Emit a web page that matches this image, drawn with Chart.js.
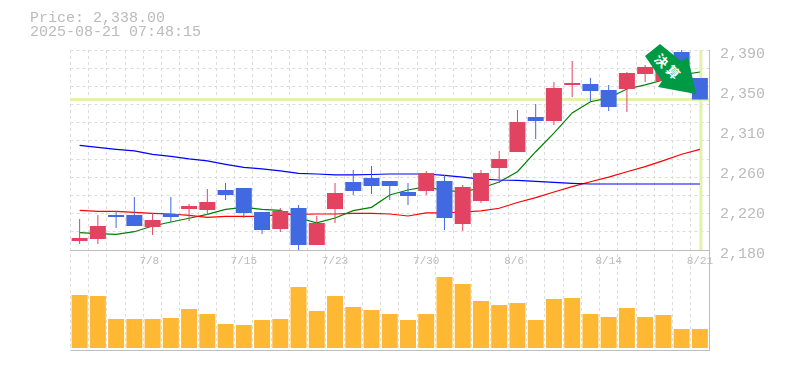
<!DOCTYPE html>
<html lang="en">
<head>
    <title>Price Chart</title>
    <script src="https://cdn.jsdelivr.net/npm/chart.js"></script>
    <style>
        html, body { margin: 0; padding: 0; background: #fff; overflow: hidden; }
        #wrap { position: relative; width: 785px; height: 370px; }
        #head { position: absolute; left: 30px; top: 12px; font: 15px/14px "Liberation Mono", monospace; color: #bbb; white-space: pre; }
        #badge { position: absolute; left: 640px; top: 40px; width: 60px; height: 60px; background: #009944;
                 clip-path: polygon(20px 4px, 41px 21px, 48px 17px, 56px 54px, 18px 47px, 22px 41px, 5px 16px); }
        #badge span { position: absolute; left: 13px; top: 19px; width: 28px; text-align: center; color: #fff; white-space: nowrap;
                      font: bold 13px/14px "Noto Sans CJK JP"; letter-spacing: 3px; transform: rotate(45deg); }
    </style>
</head>
<body>
    <div id="wrap">
        <canvas id="priceChart" width="785" height="370"></canvas>
        <div id="head">Price: 2,338.00
2025-08-21 07:48:15</div>
        <div id="badge"><span>決算</span></div>
    </div>

    <script>
        const dates = ['7/2','7/3','7/4','7/7','7/8','7/9','7/10','7/11','7/14','7/15','7/16','7/17','7/18','7/22','7/23','7/24','7/25','7/28','7/29','7/30','7/31','8/1','8/4','8/5','8/6','8/7','8/8','8/12','8/13','8/14','8/15','8/18','8/19','8/20','8/21'];

        const opens  = [2189.5,2191.5,2216.8,2216.8,2204.2,2217.8,2223.0,2222.0,2243.0,2245.1,2219.9,2202.1,2224.1,2185.3,2223.0,2251.4,2255.6,2252.5,2240.9,2242.0,2252.5,2207.3,2231.5,2266.1,2282.9,2319.7,2315.5,2353.3,2354.3,2348.0,2349.1,2364.8,2357.5,2387.9,2360.6];
        const closes = [2192.6,2205.2,2214.7,2205.2,2211.5,2214.7,2226.2,2230.4,2237.8,2218.9,2201.0,2221.0,2185.3,2208.4,2239.9,2242.0,2247.2,2247.2,2236.7,2260.9,2213.6,2246.2,2260.9,2275.6,2314.4,2315.5,2350.1,2355.4,2347.0,2330.2,2365.9,2372.2,2375.3,2375.3,2338.0];
        const highs  = [2212.6,2216.8,2221.0,2235.7,2218.9,2235.7,2228.3,2244.1,2250.4,2245.1,2219.9,2224.1,2227.3,2215.7,2250.4,2264.0,2268.2,2252.5,2250.4,2263.0,2258.8,2248.3,2264.0,2284.0,2327.0,2333.3,2356.4,2378.5,2360.6,2353.3,2366.9,2374.3,2381.6,2390.0,2360.6];
        const lows   = [2186.3,2186.3,2203.1,2205.2,2195.8,2209.4,2210.5,2216.8,2232.5,2213.6,2196.8,2198.9,2180.0,2185.3,2208.4,2237.8,2238.8,2232.5,2227.3,2237.8,2201.0,2200.0,2229.4,2250.4,2282.9,2296.6,2311.3,2340.7,2336.4,2326.0,2324.9,2356.4,2353.3,2371.1,2338.0];

        const maShort = [2198.2,2197.1,2196.5,2199.2,2205.2,2209.4,2213.3,2217.4,2222.7,2224.8,2222.7,2221.7,2213.6,2208.4,2213.6,2221.3,2224.8,2237.8,2243.0,2246.5,2242.2,2241.2,2244.8,2251.4,2262.2,2283.2,2302.8,2323.9,2335.7,2339.6,2349.1,2353.3,2358.5,2363.8,2366.9];
        const maMid   = [2221.7,2220.6,2220.6,2219.6,2218.5,2217.8,2216.4,2214.3,2215.4,2215.4,2215.4,2217.5,2217.5,2217.8,2217.8,2218.5,2218.5,2217.8,2215.7,2218.9,2218.9,2219.9,2221.0,2223.8,2229.9,2235.0,2240.9,2246.5,2251.7,2256.6,2262.2,2267.5,2273.8,2280.5,2285.7];
        const maLong  = [2289.9,2287.8,2285.7,2284.0,2280.5,2278.4,2275.6,2273.5,2270.0,2266.8,2265.1,2263.0,2260.5,2259.8,2258.8,2258.8,2259.3,2259.8,2259.8,2259.8,2258.3,2256.6,2254.5,2253.5,2253.2,2252.1,2251.1,2250.0,2249.3,2249.3,2249.3,2249.3,2249.3,2249.3,2249.3];

        const volumes = [53,52,29,29,29,30,39,34,24,23,28,29,61,37,52,41,38,34,28,34,71,64,47,43,45,28,49,50,34,31,40,31,33,19,19];

        const priceTicks  = [2180, 2222, 2264, 2306, 2348, 2390];
        const priceLabels = ['2,180', '2,220', '2,260', '2,310', '2,350', '2,390'];
        const lastPrice = 2338;

        const UP = '#e24360', DOWN = '#4169e1', VOL = '#ffb833';
        const GRID = '#dcdcdc', FRAME = '#bdbdbd', TEXT = '#bbb', MARK = '#e2f2ab';

        const candleColors = opens.map((o, i) => closes[i] >= o ? UP : DOWN);

        // current price cross goes under the candles, frame lines over the grid
        const overlays = {
            id: 'overlays',
            beforeDatasetsDraw(chart) {
                const { ctx, chartArea, scales } = chart;
                const py = scales.y.getPixelForValue(lastPrice);
                const px = scales.x.getPixelForValue(dates.length - 1);
                ctx.save();
                ctx.strokeStyle = MARK;
                ctx.lineWidth = 3;
                ctx.beginPath();
                ctx.moveTo(chartArea.left, py);
                ctx.lineTo(chartArea.right + 1, py);
                ctx.moveTo(px + 1, scales.y.top);
                ctx.lineTo(px + 1, scales.y.bottom);
                ctx.stroke();
                ctx.strokeStyle = FRAME;
                ctx.lineWidth = 1;
                ctx.beginPath();
                ctx.moveTo(chartArea.left, scales.y.bottom + 0.5);
                ctx.lineTo(710, scales.y.bottom + 0.5);
                ctx.moveTo(chartArea.left, chartArea.bottom + 0.5);
                ctx.lineTo(710, chartArea.bottom + 0.5);
                ctx.moveTo(709.5, chartArea.top);
                ctx.lineTo(709.5, chartArea.bottom + 1);
                ctx.stroke();
                ctx.restore();
            }
        };

        function lineSet(data, color) {
            return { type: 'line', data, borderColor: color, borderWidth: 1.2, pointRadius: 0, tension: 0, yAxisID: 'y', order: 3 };
        }

        new Chart(document.getElementById('priceChart'), {
            type: 'bar',
            plugins: [overlays],
            data: {
                labels: dates,
                datasets: [
                    lineSet(maLong, '#0000ff'),
                    lineSet(maMid, '#ff0000'),
                    lineSet(maShort, '#008000'),
                    {
                        data: lows.map((l, i) => [l, highs[i]]),
                        backgroundColor: candleColors,
                        barThickness: 1,
                        grouped: false,
                        inflateAmount: 0,
                        yAxisID: 'y',
                        order: 2
                    },
                    {
                        data: opens.map((o, i) => [o, closes[i]]),
                        backgroundColor: candleColors,
                        barThickness: 16,
                        grouped: false,
                        inflateAmount: 0,
                        yAxisID: 'y',
                        order: 1
                    },
                    {
                        data: volumes,
                        backgroundColor: VOL,
                        barThickness: 16,
                        grouped: false,
                        inflateAmount: 0,
                        yAxisID: 'yVol',
                        order: 1
                    }
                ]
            },
            options: {
                responsive: false,
                animation: false,
                layout: { autoPadding: false, padding: { left: 70.5, top: 50, bottom: 20, right: 0 } },
                plugins: { legend: { display: false }, tooltip: { enabled: false } },
                scales: {
                    x: {
                        position: { y: 2180 },
                        offset: true,
                        grid: {
                            offset: true,
                            drawTicks: false,
                            color: c => c.index === dates.length ? 'transparent' : GRID
                        },
                        border: { display: false, dash: [3, 3] },
                        ticks: {
                            autoSkip: false,
                            maxRotation: 0,
                            padding: 4,
                            color: TEXT,
                            font: { family: 'Liberation Mono', size: 11 },
                            callback: (v, i) => i % 5 === 4 ? dates[i].padEnd(4, ' ') : ''
                        }
                    },
                    y: {
                        position: 'right',
                        stack: 'panels',
                        stackWeight: 2,
                        min: 2180,
                        max: 2390,
                        afterBuildTicks(axis) {
                            const list = priceTicks.map(v => ({ value: v }));
                            for (let i = 1; i < 11; i++) list.push({ value: 2180 + i * 210 / 11 });
                            axis.ticks = list;
                        },
                        afterFit(axis) { axis.width = 76; },
                        grid: {
                            drawTicks: false,
                            color: c => c.tick && priceTicks.slice(1, -1).includes(c.tick.value) ? 'transparent' : GRID
                        },
                        border: { display: false, dash: [3, 3] },
                        ticks: {
                            autoSkip: false,
                            padding: 11,
                            labelOffset: 4,
                            color: TEXT,
                            font: { family: 'Liberation Mono', size: 15 },
                            callback: v => {
                                const k = priceTicks.indexOf(v);
                                return k < 0 ? '' : priceLabels[k];
                            }
                        }
                    },
                    yVol: {
                        position: 'right',
                        stack: 'panels',
                        stackWeight: 1,
                        min: -2,
                        max: 98,
                        grid: { display: false },
                        border: { display: false },
                        ticks: { display: false }
                    }
                }
            }
        });
    </script>
</body>
</html>
